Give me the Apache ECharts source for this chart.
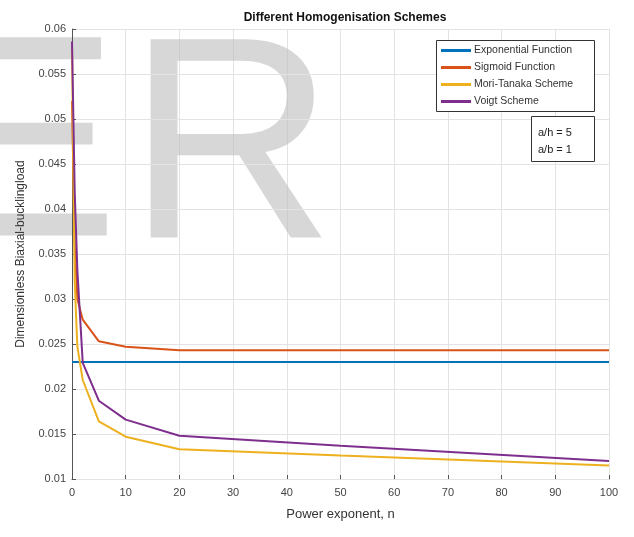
<!DOCTYPE html>
<html>
<head>
<meta charset="utf-8">
<script src="https://cdn.jsdelivr.net/npm/echarts@6/dist/echarts.min.js"></script>
<style>
  html, body { margin: 0; padding: 0; background: #fff; }
</style>
</head>
<body>
<div id="main" style="width: 634px;height:537px;"></div>
<script>
// power exponent values (x)
let nValues = [0, 0.5, 1, 2, 5, 10, 20, 50, 100]
// dimensionless biaxial buckling load for each scheme
let exponentialData = [0.023, 0.023, 0.023, 0.023, 0.023, 0.023, 0.023, 0.023, 0.023]
let sigmoidData = [0.052, 0.036, 0.030, 0.0277, 0.0253, 0.0247, 0.0243, 0.0243, 0.0243]
let moriTanakaData = [0.058, 0.032, 0.0247, 0.0210, 0.0164, 0.0147, 0.0133, 0.0126, 0.0115]
let voigtData = [0.0586, 0.042, 0.0332, 0.0229, 0.0187, 0.0166, 0.0148, 0.0137, 0.0120]

let seriesNames = ['Exponential Function', 'Sigmoid Function', 'Mori-Tanaka Scheme', 'Voigt Scheme']
let seriesData = [exponentialData, sigmoidData, moriTanakaData, voigtData]
let colors = ['#0072BD', '#D95319', '#EDB120', '#7E2F8E']

let yMin = 0.01
let yMax = 0.06
let yStep = 0.005
let xMin = 0
let xMax = 100
let xStep = 10

let myChart = echarts.init(document.getElementById('main'))

let font = 'Liberation Sans, Arial, sans-serif'
let markFill = 'rgba(190,190,190,0.62)'

let option = {
  animation: false,
  backgroundColor: '#fff',
  color: colors,
  title: {
    text: 'Different Homogenisation Schemes',
    left: 340,
    textAlign: 'center',
    top: 7,
    textStyle: {
      fontFamily: font,
      fontSize: 12,
      fontWeight: 'bold',
      color: '#111'
    }
  },
  grid: {
    left: 72,
    right: 25,
    top: 29,
    bottom: 58
  },
  legend: {
    orient: 'vertical',
    left: 441,
    top: 45,
    padding: 0,
    icon: 'rect',
    itemWidth: 30,
    itemHeight: 3,
    itemGap: 6,
    data: seriesNames,
    textStyle: {
      fontFamily: font,
      fontSize: 10.5,
      color: '#333',
      padding: [0, 0, 0, -2]
    }
  },
  graphic: [
    // background watermark letters
    {
      type: 'text',
      z: 1,
      silent: true,
      position: [-73, 156],
      style: {
        text: 'E',
        font: '288px Liberation Sans, Arial, sans-serif',
        fill: markFill,
        verticalAlign: 'middle'
      }
    },
    {
      type: 'text',
      z: 1,
      silent: true,
      position: [127, 158],
      style: {
        text: 'R',
        font: '288px Liberation Sans, Arial, sans-serif',
        fill: markFill,
        verticalAlign: 'middle'
      }
    },
    // legend box
    {
      type: 'rect',
      z: 3,
      shape: { x: 436.5, y: 40.5, width: 158, height: 71 },
      style: { fill: '#fff', stroke: '#333', lineWidth: 1 }
    },
    // annotation box
    {
      type: 'rect',
      z: 3,
      shape: { x: 531.5, y: 116.5, width: 63, height: 45 },
      style: { fill: '#fff', stroke: '#333', lineWidth: 1 }
    },
    {
      type: 'text',
      z: 4,
      position: [538, 124],
      style: {
        text: 'a/h = 5\na/b = 1',
        font: '11px Liberation Sans, Arial, sans-serif',
        fill: '#222',
        lineHeight: 17
      }
    }
  ],
  xAxis: {
    type: 'value',
    min: xMin,
    max: xMax,
    interval: xStep,
    name: 'Power exponent, n',
    nameLocation: 'middle',
    nameGap: 29,
    nameTextStyle: {
      fontFamily: font,
      fontSize: 13,
      color: '#333'
    },
    axisLine: { show: true, lineStyle: { color: '#555', width: 1 } },
    axisTick: { show: true, inside: true, length: 4, lineStyle: { color: '#555' } },
    axisLabel: {
      fontFamily: font,
      fontSize: 11,
      color: '#444',
      margin: 8
    },
    splitLine: { show: true, lineStyle: { color: '#e3e3e3', width: 1 } }
  },
  yAxis: {
    type: 'value',
    z: 2,
    min: yMin,
    max: yMax,
    interval: yStep,
    name: 'Dimensionless Biaxial-bucklingload',
    nameLocation: 'middle',
    nameGap: 45,
    nameTextStyle: {
      fontFamily: font,
      fontSize: 12,
      color: '#333'
    },
    axisLine: { show: true, lineStyle: { color: '#555', width: 1 } },
    axisTick: { show: true, inside: true, length: 4, lineStyle: { color: '#555' } },
    axisLabel: {
      fontFamily: font,
      fontSize: 11,
      color: '#444',
      margin: 6,
      formatter: function (v) {
        return String(+v.toFixed(3))
      }
    },
    splitLine: { show: true, lineStyle: { color: '#e3e3e3', width: 1 } }
  },
  series: seriesNames.map(function (name, i) {
    return {
      name: name,
      type: 'line',
      z: 5,
      showSymbol: false,
      symbol: 'none',
      lineStyle: { width: 2, color: colors[i] },
      itemStyle: { color: colors[i] },
      data: nValues.map(function (n, j) {
        return [n, seriesData[i][j]]
      })
    }
  })
}

myChart.setOption(option)
</script>
</body>
</html>
